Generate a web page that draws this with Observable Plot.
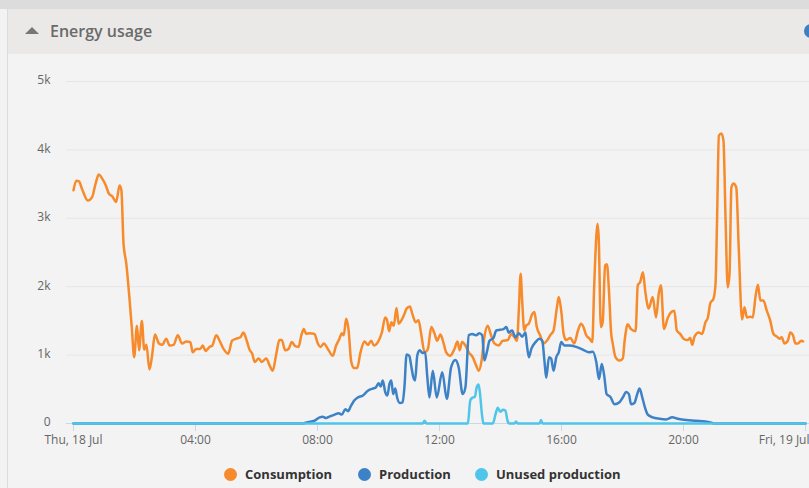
<!DOCTYPE html>
<html><head><meta charset="utf-8">
<script src="https://cdn.jsdelivr.net/npm/d3@7"></script>
<script src="https://cdn.jsdelivr.net/npm/@observablehq/plot@0.6"></script>
<style>
html,body{margin:0;padding:0;background:#f3f3f3;width:809px;height:488px;overflow:hidden;font-family:"Open Sans",sans-serif;}
#top{position:absolute;left:0;top:0;width:809px;height:9px;background:#dcdcdc;}
#panel{position:absolute;left:7px;top:9px;width:802px;height:479px;border-left:1px solid #dcdcdc;background:#f3f3f3;}
#header{position:absolute;left:0;top:0;width:802px;height:45px;background:#ebe9e7;overflow:hidden;}
#tri{position:absolute;left:17px;top:18px;width:0;height:0;border-left:7px solid transparent;border-right:7px solid transparent;border-bottom:7px solid #777;}
#title{position:absolute;left:42px;top:11px;font-size:16px;font-weight:600;color:#6a6a6a;line-height:22px;white-space:nowrap;}
#dot{position:absolute;left:796px;top:15px;width:14px;height:14px;border-radius:50%;background:#3d7fc4;}
#chart{position:absolute;left:0;top:54px;}
.lg{position:absolute;top:465px;height:18px;line-height:18px;font-size:13px;font-weight:700;color:#333;white-space:nowrap;}
.lg i{position:absolute;left:0;top:3px;width:13px;height:13px;border-radius:50%;}
.lg span{position:absolute;left:21px;top:0;}
</style></head>
<body>
<div id="top"></div>
<div id="panel"><div id="header"><div id="tri"></div><div id="title">Energy usage</div><div id="dot"></div></div></div>
<div id="chart"></div>
<div id="legend"></div>
<script>
// ---- data (hours since 00:00 Thu 18 Jul, watts) ----
const consumptionHours = [0.00,0.09,0.18,0.28,0.47,0.61,0.72,0.83,0.94,1.05,1.16,1.27,1.40,1.51,1.57,1.64,1.73,1.84,1.91,1.99,2.08,2.15,2.24,2.32,2.39,2.49,2.57,2.67,2.80,2.91,3.04,3.15,3.28,3.42,3.56,3.70,3.83,3.91,4.02,4.15,4.24,4.33,4.46,4.55,4.68,4.79,4.92,5.07,5.20,5.33,5.47,5.57,5.68,5.77,5.86,5.94,6.07,6.17,6.32,6.43,6.53,6.65,6.75,6.83,6.94,7.05,7.16,7.27,7.38,7.47,7.55,7.63,7.74,7.90,8.01,8.10,8.21,8.34,8.50,8.61,8.72,8.80,8.86,8.94,9.02,9.10,9.19,9.30,9.41,9.54,9.65,9.76,9.85,9.98,10.11,10.22,10.28,10.35,10.42,10.50,10.59,10.66,10.74,10.85,10.92,11.03,11.11,11.22,11.31,11.40,11.51,11.62,11.73,11.84,11.92,12.03,12.13,12.22,12.35,12.49,12.59,12.66,12.74,12.85,12.96,13.09,13.20,13.29,13.38,13.47,13.58,13.69,13.80,13.94,14.07,14.24,14.35,14.46,14.54,14.60,14.66,14.71,14.78,14.84,14.93,15.04,15.11,15.19,15.30,15.41,15.52,15.63,15.74,15.85,15.91,15.99,16.07,16.15,16.29,16.42,16.54,16.64,16.72,16.81,16.92,17.01,17.07,17.14,17.18,17.22,17.29,17.35,17.43,17.49,17.55,17.63,17.68,17.77,17.90,18.01,18.07,18.17,18.28,18.43,18.50,18.58,18.67,18.75,18.86,18.99,19.10,19.19,19.26,19.36,19.49,19.60,19.70,19.78,19.89,20.00,20.14,20.22,20.29,20.36,20.50,20.61,20.72,20.80,20.88,20.98,21.05,21.10,21.16,21.24,21.31,21.38,21.45,21.51,21.57,21.64,21.73,21.81,21.92,22.00,22.08,22.19,22.27,22.36,22.44,22.52,22.62,22.73,22.84,22.95,23.06,23.15,23.22,23.31,23.42,23.50,23.59,23.67,23.75,23.86,23.92];
const consumptionW = [3410,3550,3540,3430,3260,3310,3500,3640,3580,3490,3360,3320,3240,3480,3410,2630,2340,1800,1410,970,1430,1070,1500,1080,1150,790,970,1300,1170,1150,1240,1140,1150,1290,1170,1200,1190,1040,1090,1090,1140,1060,1120,1140,1290,1210,1090,1020,1210,1240,1260,1330,1210,1080,1020,900,950,900,950,850,770,1020,1220,1220,1070,1090,1190,1130,1120,1290,1380,1310,1320,1310,1170,1120,1170,1090,990,1140,1240,1320,1290,1530,1360,920,810,810,1040,1200,1150,1210,1140,1190,1330,1550,1510,1350,1480,1430,1690,1460,1500,1600,1680,1710,1600,1480,1510,1310,1040,1090,1410,1310,1210,1300,1180,1040,990,1090,1200,1070,1190,1140,1040,970,850,770,920,1260,1430,1290,1170,1140,1210,1220,1310,1260,1210,1650,2190,1800,1360,1430,1460,1600,1630,1410,1290,1170,1210,1290,1360,1700,1850,1650,1310,1220,1250,1170,1360,1460,1410,1290,1240,1190,1990,2720,2920,2720,1410,1480,2310,2330,1990,1310,1170,970,920,950,1210,1450,1380,1350,2020,2070,2210,1920,1680,1850,1550,1900,2020,1380,1550,1630,1650,1360,1310,1240,1220,1250,1150,1270,1330,1310,1480,1550,1760,1820,2040,2970,4210,4240,4140,2970,1990,2190,3450,3510,3450,2580,1520,1700,1550,1560,1550,1850,2030,1800,1800,1650,1510,1310,1270,1240,1260,1170,1210,1330,1290,1170,1170,1210,1200];

const productionHours = [0,7.50,7.68,7.90,8.07,8.17,8.28,8.39,8.56,8.69,8.80,8.91,9.00,9.10,9.21,9.32,9.49,9.65,9.81,9.92,10.00,10.07,10.14,10.22,10.29,10.36,10.42,10.48,10.55,10.61,10.70,10.79,10.85,10.92,11.01,11.07,11.14,11.20,11.27,11.35,11.45,11.53,11.60,11.67,11.78,11.91,12.09,12.24,12.38,12.52,12.63,12.76,12.85,12.96,13.07,13.20,13.31,13.40,13.47,13.55,13.64,13.77,13.86,13.99,14.10,14.19,14.27,14.38,14.49,14.60,14.71,14.82,14.86,14.93,15.01,15.15,15.28,15.37,15.44,15.50,15.59,15.66,15.74,15.83,15.91,15.99,16.10,16.26,16.48,16.70,16.90,17.03,17.14,17.23,17.32,17.40,17.48,17.60,17.74,17.90,18.01,18.12,18.21,18.28,18.39,18.47,18.56,18.65,18.72,18.83,18.99,19.21,19.43,19.63,19.81,20.09,20.41,20.85,21.00,24.00];
const productionW = [0,0,20,40,90,100,80,100,130,150,130,210,180,260,340,380,410,480,510,530,590,540,630,460,410,580,630,430,510,380,300,310,530,1010,990,850,680,630,990,1070,1030,1040,680,380,770,380,750,360,820,930,820,430,530,1290,1310,1290,1320,1290,920,1040,1210,1250,1360,1370,1380,1410,1330,1360,1260,1320,1270,1330,1170,970,1090,1190,1240,1210,920,670,970,950,770,970,1040,1190,1140,1140,1120,1080,1040,1050,900,650,870,700,430,390,280,310,380,460,430,280,300,410,510,380,260,130,90,70,60,90,70,50,40,20,0,0];

const unusedHours = [0,11.45,11.51,11.57,12.93,13.01,13.09,13.16,13.22,13.28,13.33,13.39,13.44,13.75,13.84,13.91,13.99,14.08,14.16,14.23,14.29,14.46,14.51,14.56,15.28,15.33,15.38,24];
const unusedW = [0,0,40,0,0,340,380,390,530,570,430,140,0,0,140,230,170,200,190,40,0,0,30,0,0,50,0,0];

const seriesNames = ["Consumption","Production","Unused production"];
const seriesColors = ["#f78a2a","#3d82c6","#4fc5e9"];
const tickHours = [0,4,8,12,16,20,24];
const tickLabels = ["Thu, 18 Jul","04:00","08:00","12:00","16:00","20:00","Fri, 19 Jul"];
const yTicks = [0,1000,2000,3000,4000,5000];
const yTickLabels = ["0","1k","2k","3k","4k","5k"];

const toRows = (hs, vs) => hs.map((h, i) => ({h, v: vs[i]}));
const cons = toRows(consumptionHours, consumptionW);
const prod = toRows(productionHours, productionW);
const unused = toRows(unusedHours, unusedW);

const labelStyle = {fill: "#666", fontSize: 12, fontFamily: "'Open Sans', sans-serif"};

const chart = Plot.plot({
  width: 809, height: 400,
  marginTop: 27, marginBottom: 31, marginLeft: 73, marginRight: 4,
  style: "background:transparent;overflow:visible;font-family:'Open Sans',sans-serif;",
  x: {domain: [0, 24], axis: null, label: null},
  y: {domain: [0, 5000], axis: null, label: null},
  marks: [
    Plot.ruleY(yTicks.slice(1), {y: d => d, stroke: "#e6e6e6", strokeWidth: 1, insetLeft: -7, insetRight: -4}),
    Plot.ruleY([0], {y: d => d, stroke: "#ccd6eb", strokeWidth: 1, insetLeft: -7, insetRight: -4}),
    Plot.axisX({ticks: tickHours, tickSize: 8, tickFormat: () => "", stroke: "#ccd6eb", label: null}),
    Plot.text(yTicks, {x: 0, y: d => d, text: (d, i) => yTickLabels[i], textAnchor: "end", dx: -23, dy: -1, ...labelStyle}),
    Plot.text(tickHours.slice(0, -1), {x: d => d, y: 0, text: (d, i) => tickLabels[i], dy: 17, ...labelStyle}),
    Plot.text(tickHours.slice(-1), {x: d => d, y: 0, text: () => tickLabels[tickLabels.length - 1], textAnchor: "end", dx: 4, dy: 17, ...labelStyle}),
    Plot.line(cons, {x: "h", y: "v", stroke: seriesColors[0], strokeWidth: 2.5, curve: "monotone-x"}),
    Plot.line(prod, {x: "h", y: "v", stroke: seriesColors[1], strokeWidth: 2.5, curve: "monotone-x"}),
    Plot.line(unused, {x: "h", y: "v", stroke: seriesColors[2], strokeWidth: 2.5, curve: "monotone-x"})
  ]
});
document.getElementById("chart").appendChild(chart);

const legendX = [224, 358, 475];
const legend = document.getElementById("legend");
seriesNames.forEach((name, i) => {
  const el = document.createElement("div");
  el.className = "lg";
  el.style.left = legendX[i] + "px";
  el.innerHTML = `<i style="background:${seriesColors[i]}"></i><span>${name}</span>`;
  legend.appendChild(el);
});
</script>
</body></html>
